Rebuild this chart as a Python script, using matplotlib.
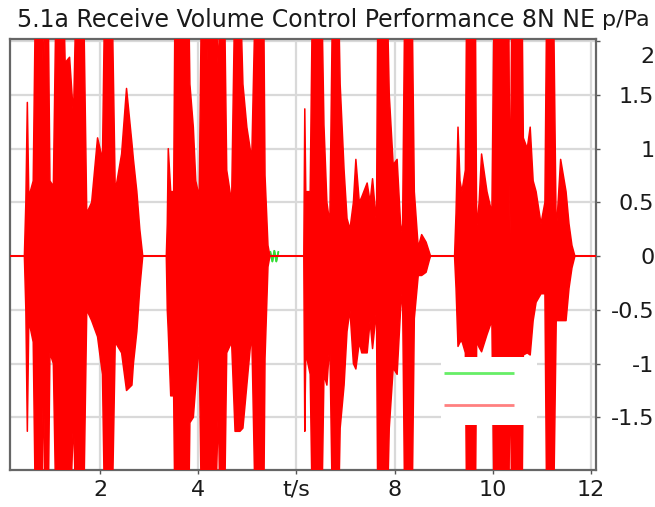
import matplotlib
matplotlib.use("Agg")
import matplotlib.pyplot as plt
from matplotlib.patches import Rectangle
from matplotlib.transforms import ScaledTranslation

plt.rcParams['font.family'] = ['DejaVu Sans']
plt.rcParams['axes.unicode_minus'] = False

# ---- data: envelope of the pressure signal (p/Pa) vs time (t/s) ----
t_env = [0.10, 0.46, 0.49, 0.52, 0.55, 0.64, 0.69, 0.81, 0.85, 0.88, 0.94, 0.98, 1.05,
         1.11, 1.25, 1.29, 1.38, 1.46, 1.52, 1.66, 1.73, 1.83, 1.95, 2.05, 2.10, 2.24,
         2.31, 2.44, 2.54, 2.65, 2.68, 2.75, 2.81, 2.87,
         3.35, 3.37, 3.39, 3.44, 3.50, 3.53, 3.80, 3.83, 3.90, 3.95, 4.02, 4.07, 4.14,
         4.17, 4.21, 4.34, 4.41, 4.45, 4.53, 4.58, 4.68, 4.75, 4.85, 4.91, 4.99, 5.09,
         5.17, 5.33, 5.36, 5.42, 5.46,
         6.15, 6.17, 6.19, 6.28, 6.33, 6.51, 6.56, 6.62, 6.68, 6.74, 6.85, 6.89, 6.97,
         7.03, 7.09, 7.16, 7.21, 7.28, 7.33, 7.44, 7.50, 7.55, 7.63, 7.66, 7.84, 7.89,
         7.97, 8.05, 8.12, 8.16, 8.21, 8.35, 8.40, 8.48, 8.55, 8.64, 8.71, 8.73,
         9.22, 9.25, 9.29, 9.33, 9.37, 9.44, 9.47, 9.64, 9.67, 9.72, 9.77, 9.88, 9.98,
         10.03, 10.32, 10.35, 10.39, 10.59, 10.62, 10.70, 10.76, 10.82, 10.88, 10.98,
         11.06, 11.10, 11.23, 11.29, 11.38, 11.49, 11.55, 11.61, 11.67, 12.30]
env_upper = [0, 0, 0.5, 1.43, 0.55, 0.7, 2.6, 2.6, 1.5, 2.6, 2.6, 0.7, 0.65,
             2.6, 2.6, 1.8, 1.85, 1.3, 2.6, 2.6, 0.4, 0.5, 1.1, 0.9, 2.6, 2.6,
             0.6, 0.95, 1.56, 1.05, 0.9, 0.6, 0.25, 0,
             0, 0.3, 1.0, 0.6, 0.6, 2.6, 2.6, 1.6, 1.2, 0.7, 0.55, 2.6, 2.6,
             1.6, 2.6, 2.6, 1.7, 2.6, 2.6, 0.8, 0.5, 2.6, 2.6, 1.6, 1.2, 0.9,
             2.6, 2.6, 0.75, 0.1, 0,
             0, 1.37, 0.6, 0.6, 2.6, 2.6, 1.22, 0.5, 0.3, 2.6, 2.6, 1.6, 0.8,
             0.35, 0.25, 0.5, 0.9, 0.5, 0.55, 0.68, 0.5, 0.72, 0.3, 2.6, 2.6, 1.5,
             0.85, 0.9, 0.3, 0.2, 2.6, 2.6, 0.6, 0.08, 0.2, 0.13, 0.03, 0,
             0, 0.4, 1.2, 0.7, 0.6, 0.8, 2.6, 2.6, 0.25, 0.5, 0.95, 0.6, 0.4,
             2.6, 2.6, 0.2, 2.6, 2.6, 1.1, 1.0, 1.2, 0.7, 0.6, 0.3,
             0.5, 2.6, 2.6, 0.2, 0.9, 0.6, 0.3, 0.1, 0, 0]
env_lower = [0, 0, -0.5, -1.63, -0.6, -0.8, -2.6, -2.6, -0.95, -2.6, -2.6, -0.9, -1.0,
             -2.6, -2.6, -2.6, -2.6, -1.5, -2.6, -2.6, -0.5, -0.6, -0.75, -1.1, -2.6, -2.6,
             -0.8, -0.9, -1.25, -1.2, -1.0, -0.7, -0.3, 0,
             0, -0.5, -0.7, -1.3, -1.3, -2.6, -2.6, -1.55, -1.5, -1.2, -0.8, -2.6, -2.6,
             -2.6, -2.6, -2.6, -1.4, -2.6, -2.6, -0.9, -0.8, -1.63, -1.63, -1.6, -1.2, -0.7,
             -2.6, -2.6, -0.95, -0.1, 0,
             0, -1.63, -0.9, -1.1, -2.6, -2.6, -1.1, -1.2, -0.8, -2.6, -2.6, -1.6, -1.2,
             -0.7, -0.5, -1.0, -1.05, -0.8, -0.9, -0.9, -0.6, -0.86, -0.5, -2.6, -2.6, -1.6,
             -1.04, -1.1, -0.5, -0.3, -2.6, -2.6, -0.58, -0.18, -0.18, -0.15, -0.03, 0,
             0, -0.3, -0.84, -0.8, -0.79, -0.9, -2.6, -2.6, -0.79, -0.85, -0.89, -0.73, -0.6,
             -2.6, -2.6, -0.92, -2.6, -2.6, -0.92, -0.9, -0.92, -0.6, -0.43, -0.35,
             -0.35, -2.6, -2.6, -0.6, -0.6, -0.6, -0.3, -0.11, 0, 0]

# short visible piece of the second (green) trace
t_green = [5.47, 5.51, 5.55, 5.59, 5.63]
p_green = [0.04, -0.05, 0.05, -0.05, 0.03]

x_ticks = [2, 4, 6, 8, 10, 12]
x_ticklabels = ['2', '4', 't/s', '8', '10', '12']
y_ticks = [-1.5, -1, -0.5, 0, 0.5, 1, 1.5, 2]
y_ticklabels = ['-1.5', '-1', '-0.5', '0', '0.5', '1', '1.5', '2']

title_text = "5.1a Receive Volume Control Performance 8N NE"
unit_text = "p/Pa"

FS = 16
FS_TITLE = 17
TXT = '#1a1a1a'

# ---- figure ----
W, H = 655, 507
fig = plt.figure(figsize=(W / 100, H / 100), dpi=100)
ax = fig.add_axes([10 / W, 1 - 470 / H, 586 / W, 431 / H])

ax.fill_between(t_env, env_lower, env_upper, color='#ff0000', edgecolor='#ff0000',
                linewidth=1.1, zorder=3)
ax.plot(t_green, p_green, color='#33dd33', lw=1.2, zorder=2.5)
ax.plot(t_green[::-1], p_green, color='#33dd33', lw=1.2, zorder=2.5)

ax.set_xlim(0.167, 12.10)
ax.set_ylim(-1.99, 2.02)

ax.set_xticks(x_ticks)
ax.set_xticklabels(x_ticklabels)
ax.set_yticks(y_ticks)
ax.set_yticklabels(y_ticklabels)

ax.yaxis.tick_right()
ax.tick_params(axis='x', direction='out', length=3, width=1, colors='#555555',
               labelsize=FS, labelcolor=TXT, pad=4)
ax.tick_params(axis='y', direction='out', length=3, width=1, colors='#555555',
               labelsize=FS, labelcolor=TXT, pad=39)
for lab in ax.get_yticklabels():
    lab.set_horizontalalignment('right')
top_lab = ax.get_yticklabels()[-1]
top_lab.set_verticalalignment('top')
top_lab.set_transform(top_lab.get_transform() +
                      ScaledTranslation(0, -6 / 100, fig.dpi_scale_trans))

ax.grid(True, color='#d9d9d9', linewidth=1.6, zorder=0)
ax.set_axisbelow(True)
for s in ax.spines.values():
    s.set_color('#666666')
    s.set_linewidth(1.6)

# legend box (no labels), opaque white over the data
ax.add_patch(Rectangle((0.735, 0.104), 0.164, 0.158, transform=ax.transAxes,
                       facecolor='white', edgecolor='none', zorder=10))
ax.plot([0.741, 0.860], [0.225, 0.225], transform=ax.transAxes, color='#66ee66',
        lw=2.0, zorder=11, solid_capstyle='butt')
ax.plot([0.741, 0.860], [0.151, 0.151], transform=ax.transAxes, color='#ff8080',
        lw=2.0, zorder=11, solid_capstyle='butt')

fig.text(17 / W, 1 - 20 / H, title_text, fontsize=FS_TITLE, color=TXT,
         ha='left', va='center')
fig.text(650 / W, 1 - 20 / H, unit_text, fontsize=FS, color=TXT,
         ha='right', va='center')

fig.savefig('out.png', dpi=100)
